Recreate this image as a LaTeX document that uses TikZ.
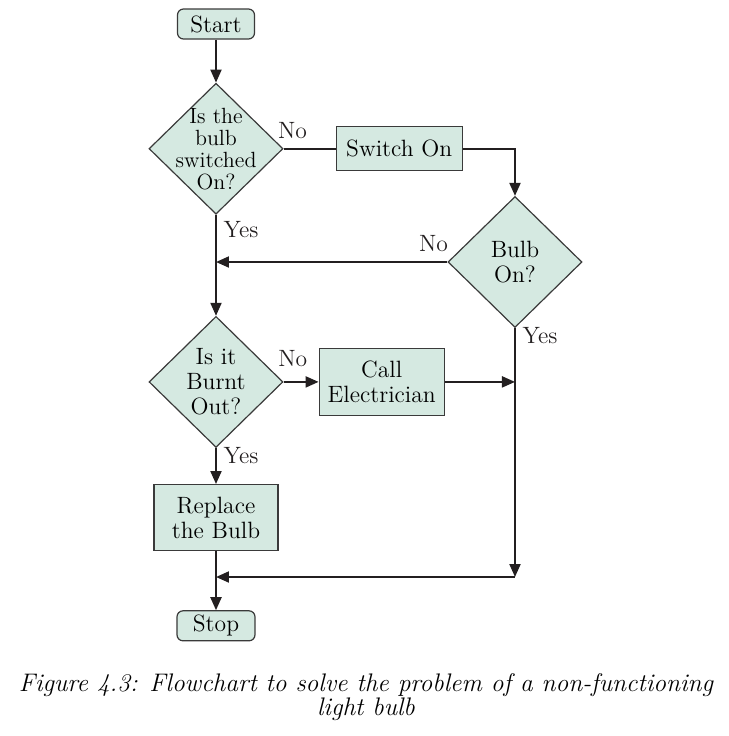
\documentclass[tikz,border=0pt]{standalone}
\usepackage{tikz}
\usetikzlibrary{positioning,arrows.meta,calc,shapes.geometric}
\definecolor{boxfill}{HTML}{D5E9E1}
\definecolor{boxline}{HTML}{3A3A3A}
\definecolor{flowline}{HTML}{231F20}

\begin{document}
\begin{tikzpicture}[x=0.5pt, y=-0.5pt,
    every node/.style={font=\fontsize{11.8}{12.5}\selectfont},
    term/.style={draw=boxline, fill=boxfill, rounded corners=3pt, minimum width=38.5pt, minimum height=15pt, inner sep=0pt, line width=0.6pt},
    proc/.style={draw=boxline, fill=boxfill, align=center, inner sep=0pt, line width=0.6pt},
    decision/.style={diamond, draw=boxline, fill=boxfill, minimum width=67pt, minimum height=65.5pt, inner sep=0pt, line width=0.6pt},
    dtext/.style={align=center},
    flow/.style={-{Triangle[length=6.5pt,width=5.5pt]}, flowline, line width=1pt},
    link/.style={flowline, line width=1pt}]
    \useasboundingbox (0,0) rectangle (729,736);
    % nodes
    \node[term] (start) at (216,24) {Start};
    \node[decision, below=21.5pt of start,
      label={[dtext, font=\fontsize{11}{11}\selectfont]center:{Is the\\bulb\\switched\\On?}}] (d1) {};
    \node[proc, minimum width=63pt, minimum height=22pt, right=26pt of d1] (sw) {Switch On};
    \node[decision, label={[dtext]center:{Bulb\\On?}}] (d2) at (515,262) {};
    \node[decision, below=50.5pt of d1, label={[dtext]center:{Is it\\Burnt\\Out?}}] (d3) {};
    \node[proc, minimum width=62.5pt, minimum height=33.5pt, right=17.5pt of d3] (ce) {Call\\Electrician};
    \node[proc, minimum width=62pt, minimum height=33pt, below=18pt of d3] (rb) {Replace\\the Bulb};
    \node[term, minimum width=39pt, below=29.5pt of rb] (stop) {Stop};
    % joints
    \coordinate (j1) at (d2 |- ce);
    \coordinate (j2) at (515,577);
    \coordinate (j3) at (d1 |- j2);
    \coordinate (j4) at (d1 |- d2);
    % connectors
    \draw[flow] (start) -- (d1);
    \draw[link] (d1) -- node[above=1pt, pos=0.17] {No} (sw);
    \draw[flow] (sw) -| (d2);
    \draw[flow] (d2) -- node[above=1.5pt, pos=0.06] {No} (j4);
    \draw[flow] (d1) -- node[right, pos=0.15] {Yes} (d3);
    \draw[flow] (d3) -- node[above=4pt, pos=0.26] {No} (ce);
    \draw[flow] (ce) -- (j1);
    \draw[flow] (d2) -- node[right, pos=0.03] {Yes} (j2);
    \draw[flow] (j2) -- (j3);
    \draw[flow] (d3) -- node[right, pos=0.22] {Yes} (rb);
    \draw[link] (rb) -- (j3);
    \draw[flow] (j3) -- (stop);
    % caption
    \node[font=\fontsize{12.7}{12}\selectfont\itshape, align=center] (cap) at (366,697)
      {Figure 4.3: Flowchart to solve the problem of a non-functioning\\light bulb};
\end{tikzpicture}
\end{document}
